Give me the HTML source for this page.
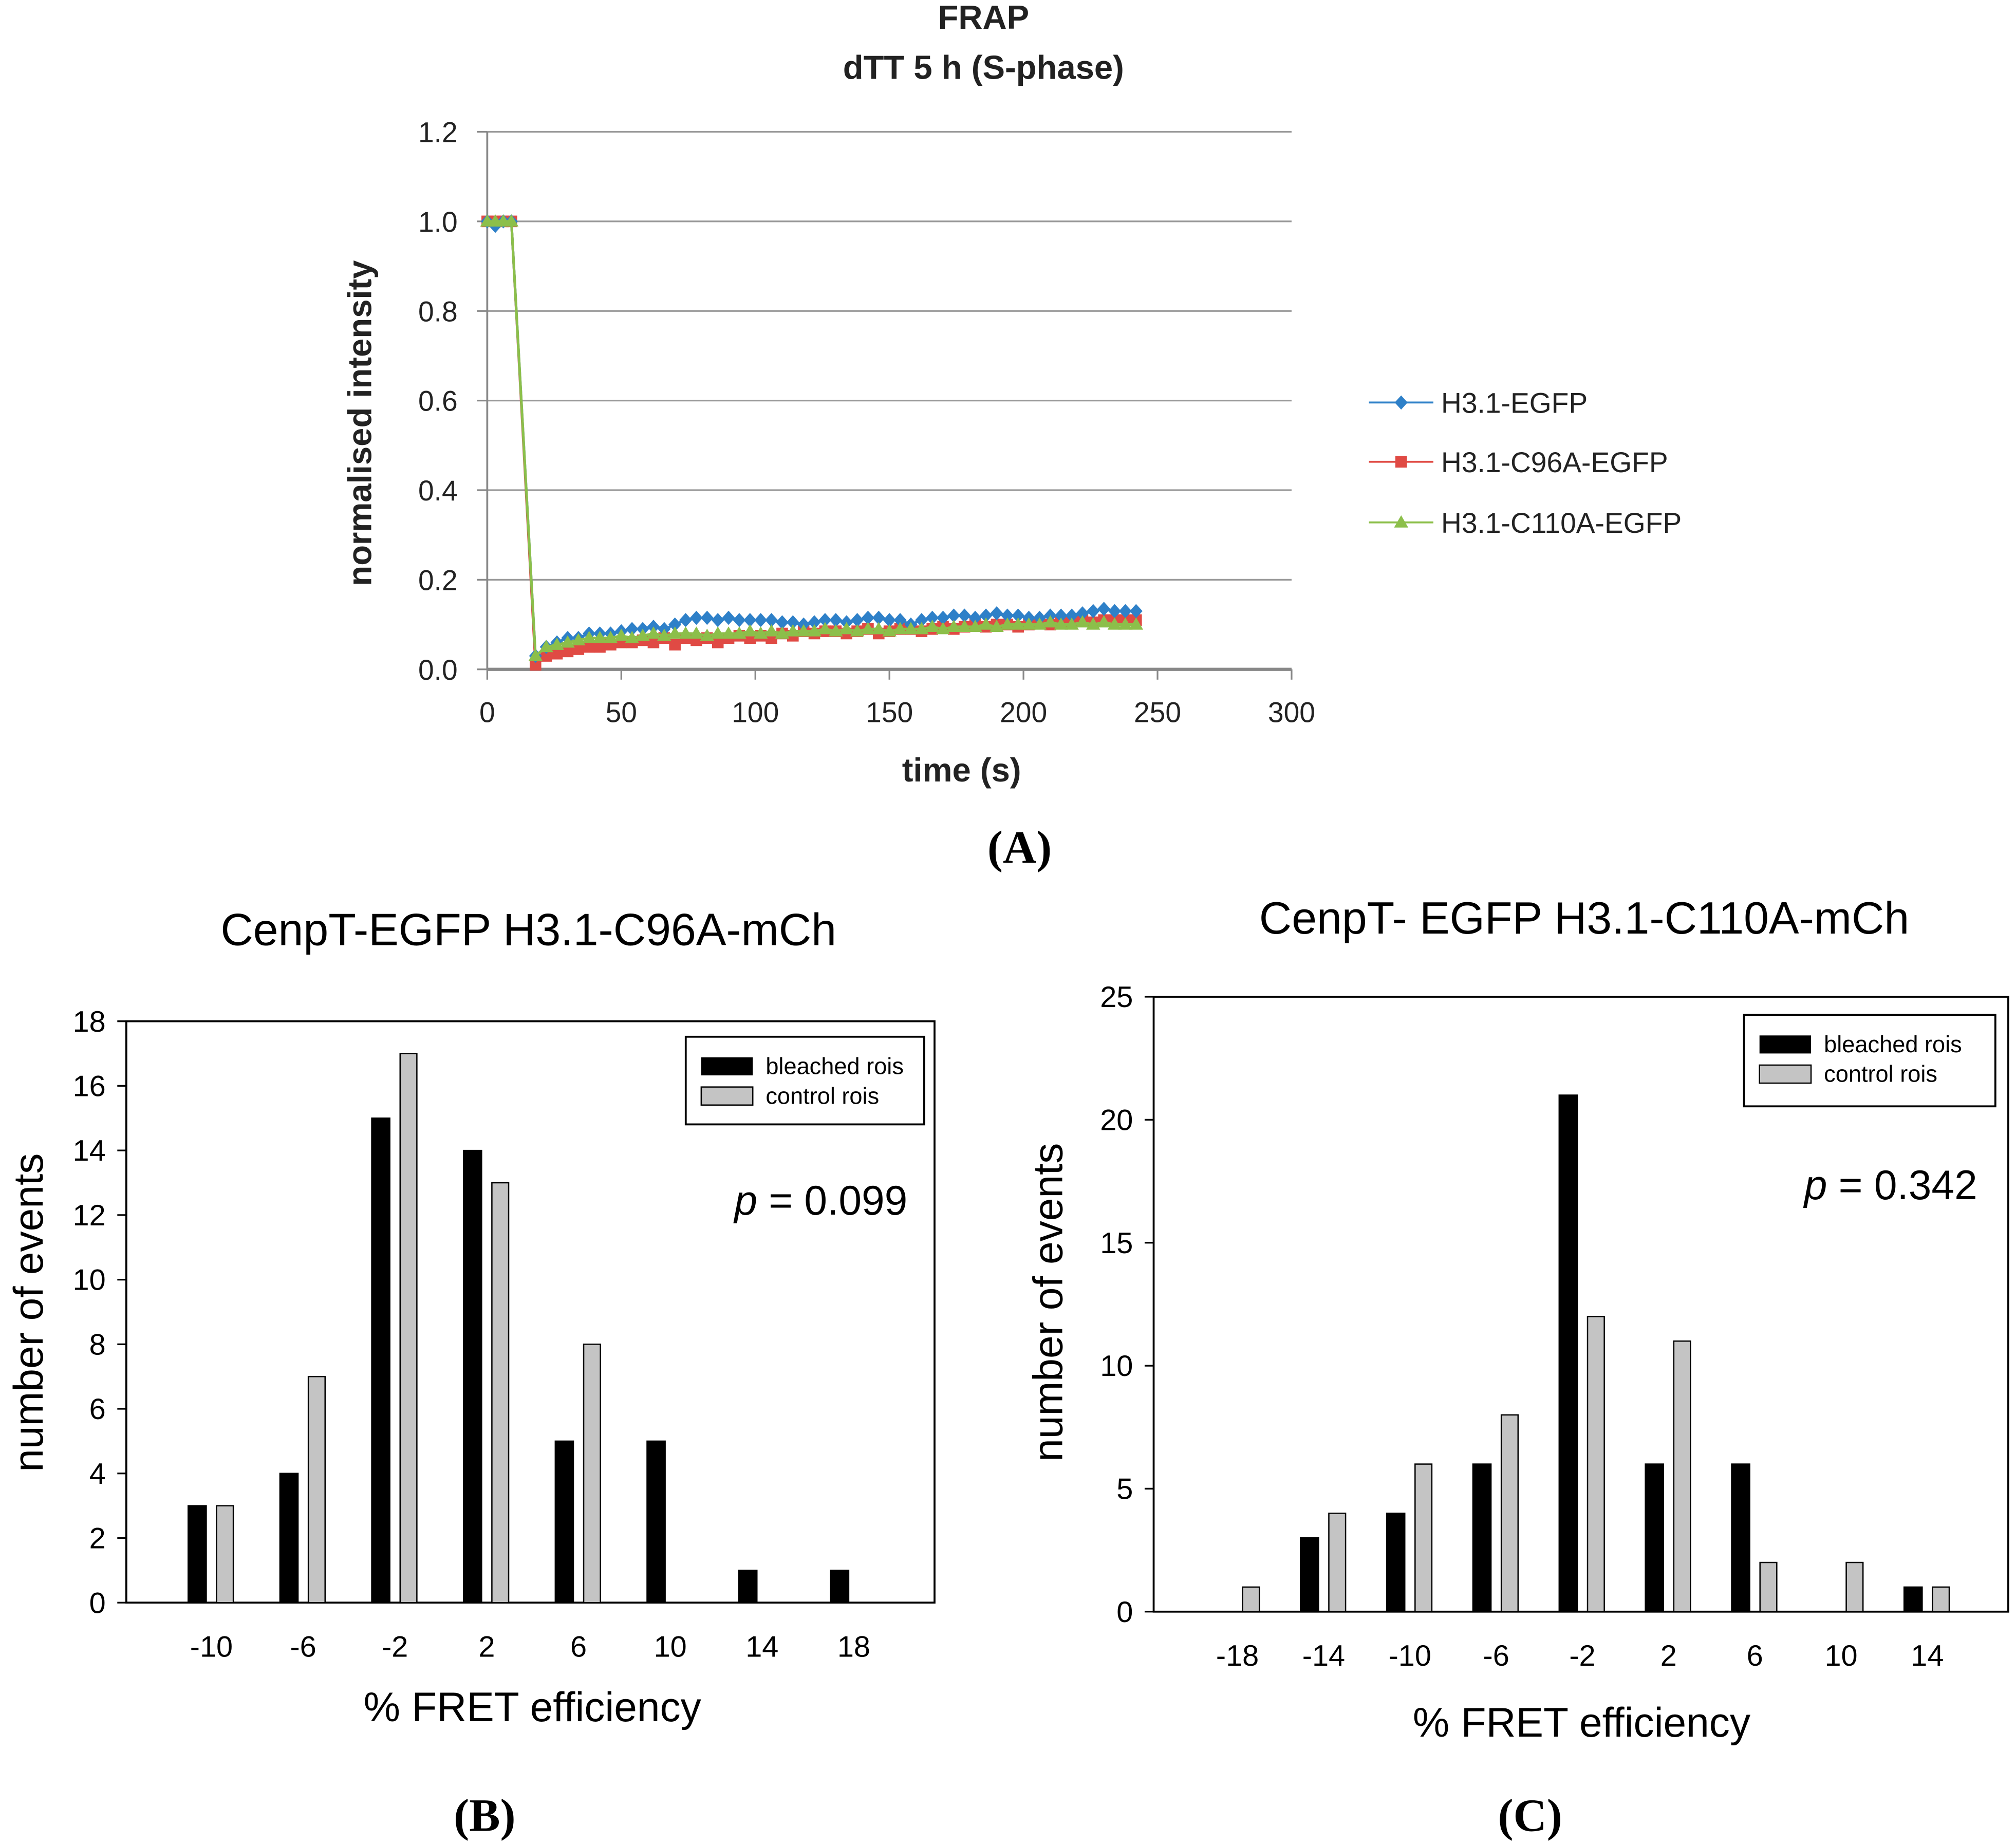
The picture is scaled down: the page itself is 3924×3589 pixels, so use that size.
<!DOCTYPE html>
<html><head><meta charset="utf-8"><style>
html,body{margin:0;padding:0;background:#fff}
svg{display:block}
text{font-family:"Liberation Sans",sans-serif}
.ser{font-family:"Liberation Serif",serif;font-weight:bold}
</style></head><body>
<svg id="fig" width="3924" height="3589" viewBox="0 0 1564 1430" xmlns="http://www.w3.org/2000/svg">
<rect width="1564" height="1430" fill="#fff"/>
<g id="pA"></g>
<g id="pB"></g>
<g id="pC"></g>
<text class="ser" x="791" y="669" font-size="36" text-anchor="middle">(A)</text>
<text class="ser" x="376" y="1420" font-size="36" text-anchor="middle">(B)</text>
<text class="ser" x="1187" y="1420" font-size="36" text-anchor="middle">(C)</text>
</svg>
<script>
const NS="http://www.w3.org/2000/svg";
function mk(p,tag,a,txt){const e=document.createElementNS(NS,tag);for(const k in a)e.setAttribute(k,a[k]);if(txt!==undefined)e.textContent=txt;p.appendChild(e);return e;}

// ---------- Panel A data ----------
const frapTimes=[0,3,6,9,18,22,26,30,34,38,42,46,50,54,58,62,66,70,74,78,82,86,90,94,98,102,106,110,114,118,122,126,130,134,138,142,146,150,154,158,162,166,170,174,178,182,186,190,194,198,202,206,210,214,218,222,226,230,234,238,242];
const frapBlue=[1,0.99,1,1,0.03,0.05,0.06,0.07,0.07,0.08,0.08,0.08,0.085,0.09,0.09,0.095,0.09,0.10,0.11,0.115,0.115,0.11,0.115,0.11,0.11,0.11,0.11,0.105,0.105,0.10,0.105,0.11,0.11,0.105,0.11,0.115,0.115,0.11,0.11,0.10,0.11,0.115,0.115,0.12,0.12,0.115,0.12,0.125,0.12,0.12,0.115,0.115,0.12,0.12,0.12,0.125,0.13,0.135,0.13,0.13,0.13];
const frapRed=[1,1,1,1,0.01,0.03,0.035,0.04,0.045,0.05,0.05,0.055,0.06,0.06,0.065,0.06,0.07,0.055,0.07,0.065,0.07,0.06,0.07,0.075,0.07,0.075,0.07,0.08,0.075,0.085,0.08,0.085,0.085,0.08,0.085,0.09,0.08,0.085,0.09,0.09,0.085,0.09,0.095,0.09,0.095,0.10,0.095,0.10,0.10,0.095,0.10,0.105,0.10,0.105,0.105,0.11,0.105,0.11,0.11,0.11,0.11];
const frapGreen=[1,1,1,1,0.03,0.05,0.055,0.06,0.065,0.07,0.07,0.07,0.075,0.07,0.075,0.08,0.075,0.08,0.08,0.08,0.075,0.08,0.08,0.08,0.085,0.08,0.085,0.08,0.085,0.085,0.085,0.09,0.085,0.09,0.085,0.09,0.09,0.085,0.09,0.09,0.09,0.095,0.09,0.095,0.095,0.095,0.10,0.095,0.10,0.10,0.10,0.10,0.105,0.10,0.10,0.105,0.10,0.105,0.10,0.10,0.10];
const frapYTicks=["0.0","0.2","0.4","0.6","0.8","1.0","1.2"];
const frapXTicks=[0,50,100,150,200,250,300];

// ---------- Panel B data ----------
const bCats=["-10","-6","-2","2","6","10","14","18"];
const bBleached=[3,4,15,14,5,5,1,1];
const bControl=[3,7,17,13,8,0,0,0];
const bYTicks=[0,2,4,6,8,10,12,14,16,18];

// ---------- Panel C data ----------
const cCats=["-18","-14","-10","-6","-2","2","6","10","14"];
const cBleached=[0,3,4,6,21,6,6,0,1];
const cControl=[1,4,6,8,12,11,2,2,1];
const cYTicks=[0,5,10,15,20,25];

// ===== Panel A =====
(function(){
const g=document.getElementById('pA');
const X0=378,X1=1002,Y0=519,Y1=102;
const xs=v=>X0+(v-0)/300*(X1-X0), ys=v=>Y0-(v/1.2)*(Y0-Y1);
let t;
t=mk(g,'text',{x:763,y:22,'font-size':26,'font-weight':'bold','text-anchor':'middle',fill:'#222'},'FRAP');

t=mk(g,'text',{x:763,y:61,'font-size':26,'font-weight':'bold','text-anchor':'middle',fill:'#222'},'dTT 5 h (S-phase)');

frapYTicks.forEach((lab,i)=>{const v=i*0.2,y=ys(v);
 if(i>0){const l=mk(g,'line',{x1:X0,x2:X1,y1:y,y2:y,stroke:'#999','stroke-width':1.3});}
 mk(g,'line',{x1:X0-8,x2:X0,y1:y,y2:y,stroke:'#888','stroke-width':1.3});
 const tt=mk(g,'text',{x:355,y:y+8,'font-size':22,'text-anchor':'end',fill:'#222'},lab);
 });
mk(g,'line',{x1:X0,x2:X0,y1:Y1,y2:Y0,stroke:'#888','stroke-width':1.5});
mk(g,'line',{x1:X0,x2:X1,y1:Y0,y2:Y0,stroke:'#888','stroke-width':2.5});
frapXTicks.forEach(v=>{const x=xs(v);mk(g,'line',{x1:x,x2:x,y1:Y0,y2:Y0+8,stroke:'#888','stroke-width':1.3});
 const tt=mk(g,'text',{x:x,y:560,'font-size':22,'text-anchor':'middle',fill:'#222'},String(v));
 });
t=mk(g,'text',{x:0,y:0,'font-size':26,'font-weight':'bold','text-anchor':'middle',fill:'#222',transform:'translate(288,328) rotate(-90)'},'normalised intensity');

t=mk(g,'text',{x:746,y:606,'font-size':26,'font-weight':'bold','text-anchor':'middle',fill:'#222'},'time (s)');

const series=[[frapRed,'#e04a44','sq','series-c96a'],[frapBlue,'#2e80c8','dia','series-wt'],[frapGreen,'#8cbf4a','tri','series-c110a']];
function marker(p,kind,x,y,c){
 if(kind==='dia')return mk(p,'path',{d:`M${x} ${y-5.5}L${x+5} ${y}L${x} ${y+5.5}L${x-5} ${y}Z`,fill:c});
 if(kind==='sq')return mk(p,'rect',{x:x-4.5,y:y-4.5,width:9,height:9,fill:c});
 return mk(p,'path',{d:`M${x} ${y-5.5}L${x+5.5} ${y+4}L${x-5.5} ${y+4}Z`,fill:c});}
series.forEach(([vals,c,k,name])=>{
 const sg=mk(g,'g',{});
 mk(sg,'polyline',{points:frapTimes.map((tv,i)=>xs(tv)+','+ys(vals[i])).join(' '),fill:'none',stroke:c,'stroke-width':2});
 frapTimes.forEach((tv,i)=>marker(sg,k,xs(tv),ys(vals[i]),c));});
const leg=[['H3.1-EGFP','#2e80c8','dia',312],['H3.1-C96A-EGFP','#e04a44','sq',358],['H3.1-C110A-EGFP','#8cbf4a','tri',405]];
leg.forEach(([lab,c,k,y])=>{const lg=mk(g,'g',{});
 mk(lg,'line',{x1:1062,x2:1112,y1:y,y2:y,stroke:c,'stroke-width':1.5});marker(lg,k,1087,y,c);
 mk(lg,'text',{x:1118,y:y+8,'font-size':22,fill:'#222'},lab);});
})();

// ===== Histogram helper =====
function hist(g,o){
 const {L,R,T,B,ymax,cats,c0,dc,bl,ct,yt}=o;
 const ys=v=>B-v/ymax*(B-T), xc=i=>c0+i*dc;
 mk(g,'rect',{x:L,y:T,width:R-L,height:B-T,fill:'none',stroke:'#000','stroke-width':1.5});
 yt.forEach(v=>{const y=ys(v);mk(g,'line',{x1:L-7,x2:L,y1:y,y2:y,stroke:'#000','stroke-width':1.3});
  const tt=mk(g,'text',{x:L-16,y:y+8,'font-size':23,'text-anchor':'end'},String(v));
  });
 cats.forEach((c,i)=>{const x=xc(i);
  const tt=mk(g,'text',{x:x,y:B+42,'font-size':23,'text-anchor':'middle'},c);
  
  if(bl[i]>0){const r=mk(g,'rect',{x:x-18,y:ys(bl[i]),width:14,height:B-ys(bl[i]),fill:'#000',stroke:'#000','stroke-width':1});
   }
  if(ct[i]>0){const r=mk(g,'rect',{x:x+4,y:ys(ct[i]),width:13,height:B-ys(ct[i]),fill:'#c4c4c4',stroke:'#000','stroke-width':1});
   }});
 const lg=mk(g,'g',{});
 mk(lg,'rect',{x:o.lx,y:o.ly,width:o.lw,height:o.lh,fill:'#fff',stroke:'#000','stroke-width':1.5});
 mk(lg,'rect',{x:o.lx+12,y:o.ly+16,width:40,height:14,fill:'#000'});
 mk(lg,'rect',{x:o.lx+12,y:o.ly+39,width:40,height:14,fill:'#c4c4c4',stroke:'#000','stroke-width':1});
 mk(lg,'text',{x:o.lx+62,y:o.ly+29,'font-size':18},'bleached rois');
 mk(lg,'text',{x:o.lx+62,y:o.ly+52,'font-size':18},'control rois');
 let t=mk(g,'text',{x:o.px,y:o.py,'font-size':32,'text-anchor':'end'});
 
 mk(t,'tspan',{'font-style':'italic'},'p');mk(t,'tspan',{},' = '+o.pv);
 t=mk(g,'text',{x:o.tx,y:o.ty,'font-size':35,'text-anchor':'middle'},o.title);
 
 t=mk(g,'text',{x:o.xtx,y:o.xty,'font-size':32,'text-anchor':'middle'},'% FRET efficiency');
 
 t=mk(g,'text',{x:0,y:0,'font-size':32,'text-anchor':'middle',transform:`translate(${o.ytx},${o.yty}) rotate(-90)`},'number of events');
 
}
hist(document.getElementById('pB'),{L:98,R:725,T:792,B:1243,ymax:18,cats:bCats,c0:164,dc:71.2,bl:bBleached,ct:bControl,yt:bYTicks,
 lx:532,ly:804,lw:185,lh:68,px:704,py:942,pv:'0.099',title:'CenpT-EGFP  H3.1-C96A-mCh',tx:410,ty:733,xtx:413,xty:1335,ytx:33,yty:1018});
hist(document.getElementById('pC'),{L:895,R:1558,T:773,B:1250,ymax:25,cats:cCats,c0:960,dc:66.9,bl:cBleached,ct:cControl,yt:cYTicks,
 lx:1353,ly:787,lw:195,lh:71,px:1534,py:930,pv:'0.342',title:'CenpT- EGFP H3.1-C110A-mCh',tx:1229,ty:724,xtx:1227,xty:1347,ytx:824,yty:1010});
</script>
</body></html>
